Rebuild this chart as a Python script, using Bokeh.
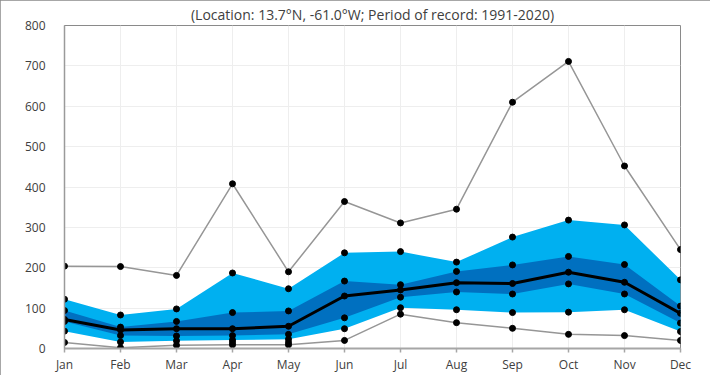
import numpy as np
from bokeh.plotting import figure
from bokeh.models import Range1d, FixedTicker
from bokeh.embed import file_html
from bokeh.resources import INLINE

months = ["Jan", "Feb", "Mar", "Apr", "May", "Jun", "Jul", "Aug", "Sep", "Oct", "Nov", "Dec"]
max_vals = [204, 203, 181, 408, 190, 364, 311, 345, 610, 711, 452, 245]
p90_vals = [122, 83, 98, 187, 148, 237, 240, 214, 276, 318, 306, 170]
p75_vals = [94, 53, 67, 89, 93, 167, 158, 191, 207, 228, 208, 105]
med_vals = [72, 46, 49, 49, 55, 130, 145, 163, 161, 189, 164, 87]
p25_vals = [67, 32, 31, 32, 35, 76, 127, 140, 135, 160, 135, 63]
p10_vals = [43, 16, 19, 21, 23, 49, 101, 96, 89, 90, 96, 42]
min_vals = [15, 2, 8, 9, 9, 20, 85, 64, 50, 35, 32, 20]
extra_vals = [np.nan, np.nan, np.nan, 15, 15, np.nan, np.nan, np.nan, np.nan, np.nan, np.nan, np.nan]
subtitle = "(Location: 13.7°N, -61.0°W; Period of record: 1991-2020)"
y_ticks = [0, 100, 200, 300, 400, 500, 600, 700, 800]

x = list(range(len(months)))
FONT = "Open Sans"
TXT = "#404040"

p = figure(width=710, height=375, x_range=Range1d(0, 11), y_range=Range1d(0, 800),
           output_backend="svg", toolbar_location=None, title=subtitle,
           min_border_left=64, min_border_right=30, min_border_top=4, min_border_bottom=0)
p.styles = {"outline": "1px solid #8a8a8a", "outline-offset": "-1px"}
p.background_fill_color = "white"
p.border_fill_color = "white"
p.outline_line_color = "#8a8a8a"
p.outline_line_width = 1

p.title.align = "center"
p.title.text_font = FONT
p.title.text_font_size = "14px"
p.title.text_font_style = "normal"
p.title.text_color = TXT
p.title.offset = 0
p.title.standoff = 4

# grid
p.xgrid.ticker = FixedTicker(ticks=x)
p.ygrid.ticker = FixedTicker(ticks=y_ticks)
p.xgrid.grid_line_color = "#eeeeee"
p.ygrid.grid_line_color = "#eeeeee"

# axes
p.yaxis.ticker = FixedTicker(ticks=y_ticks)
p.yaxis.axis_line_color = "#9a9a9a"
p.yaxis.axis_line_width = 1.5
p.yaxis.major_tick_line_color = None
p.yaxis.minor_tick_line_color = None
p.yaxis.major_label_standoff = 13
p.yaxis.major_label_text_font = FONT
p.yaxis.major_label_text_font_size = "12px"
p.yaxis.major_label_text_color = TXT

p.xaxis.ticker = FixedTicker(ticks=x)
p.xaxis.major_label_overrides = {i: m for i, m in enumerate(months)}
p.xaxis.axis_line_color = "#a6a6a6"
p.xaxis.axis_line_width = 2
p.xaxis.major_tick_line_color = "#a6a6a6"
p.xaxis.major_tick_line_width = 1.5
p.xaxis.major_tick_out = 4
p.xaxis.major_tick_in = 0
p.xaxis.minor_tick_line_color = None
p.xaxis.major_label_standoff = 3
p.xaxis.major_label_text_font = FONT
p.xaxis.major_label_text_font_size = "12px"
p.xaxis.major_label_text_color = TXT

# bands
p.varea(x=x, y1=p10_vals, y2=p90_vals, fill_color="#00b0f0")
p.varea(x=x, y1=p25_vals, y2=p75_vals, fill_color="#0070c0")

# lines
p.line(x, max_vals, line_color="#969696", line_width=1.5)
p.line(x, min_vals, line_color="#969696", line_width=1.5)
p.line(x, med_vals, line_color="black", line_width=3)

for vals in [max_vals, p90_vals, p75_vals, med_vals, p25_vals, p10_vals, min_vals, extra_vals]:
    p.scatter(x, vals, size=6, color="black")

open("out.html", "w").write(file_html(p, INLINE))
